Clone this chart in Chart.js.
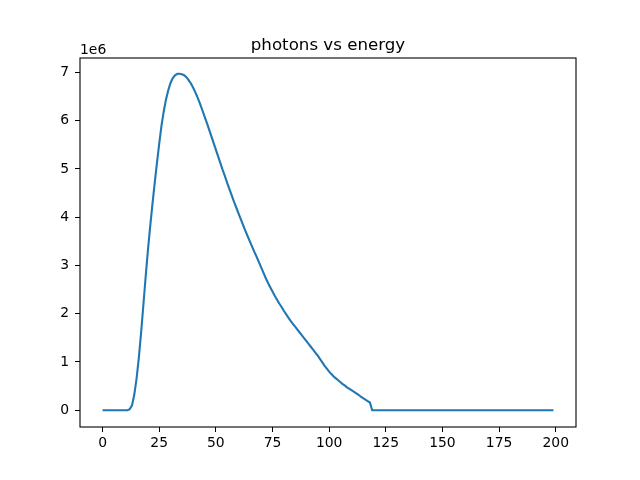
<!DOCTYPE html>
<html>
<head>
<meta charset="utf-8">
<script src="https://cdn.jsdelivr.net/npm/chart.js@4"></script>
<style>
  html, body { margin: 0; padding: 0; background: #fff; }
  #wrap { width: 640px; height: 480px; }
</style>
</head>
<body>
<div id="wrap"><canvas id="c" width="640" height="480"></canvas></div>
<script>
const titleText = "photons vs energy";
const offsetText = "1e6";

const energy = [
  0,1,2,3,4,5,6,7,8,9,10,11,12,13,14,15,16,17,18,19,
  20,21,22,23,24,25,26,27,28,29,30,31,32,33,34,35,36,37,38,39,
  40,41,42,43,44,45,46,47,48,49,50,51,52,53,54,55,56,57,58,59,
  60,61,62,63,64,65,66,67,68,69,70,71,72,73,74,75,76,77,78,79,
  80,81,82,83,84,85,86,87,88,89,90,91,92,93,94,95,96,97,98,99,
  100,101,102,103,104,105,106,107,108,109,110,111,112,113,114,115,116,117,118,119,
  120,121,122,123,124,125,126,127,128,129,130,131,132,133,134,135,136,137,138,139,
  140,141,142,143,144,145,146,147,148,149,150,151,152,153,154,155,156,157,158,159,
  160,161,162,163,164,165,166,167,168,169,170,171,172,173,174,175,176,177,178,179,
  180,181,182,183,184,185,186,187,188,189,190,191,192,193,194,195,196,197,198,199
];

// photons, in units of 1e6
const photons_e6 = [
  0,0,0,0,0,0,0,0,0,0,0,0,
  0.02,0.10,0.32,0.65,1.08,1.60,2.17,2.75,3.30,3.80,
  4.26,4.70,5.12,5.52,5.89,6.19,6.44,6.63,6.78,6.88,
  6.94,6.97,6.97,6.96,6.94,6.90,6.84,6.77,6.68,6.58,
  6.47,6.35,6.22,6.09,5.96,5.82,5.68,5.54,5.40,5.26,
  5.12,4.98,4.85,4.71,4.58,4.45,4.32,4.20,4.08,3.96,
  3.84,3.72,3.61,3.50,3.39,3.28,3.18,3.07,2.96,2.85,
  2.74,2.64,2.55,2.46,2.37,2.29,2.21,2.14,2.06,1.99,
  1.92,1.85,1.79,1.73,1.67,1.61,1.55,1.49,1.43,1.37,
  1.31,1.25,1.19,1.13,1.06,0.99,0.92,0.86,0.80,0.75,
  0.70,0.66,0.62,0.58,0.54,0.51,0.47,0.44,0.41,0.38,
  0.35,0.32,0.28,0.25,0.22,0.19,0.16,
  0,0,0,0,0,0,0,0,0,0,0,0,0,0,0,0,0,0,0,0,
  0,0,0,0,0,0,0,0,0,0,0,0,0,0,0,0,0,0,0,0,
  0,0,0,0,0,0,0,0,0,0,0,0,0,0,0,0,0,0,0,0,
  0,0,0,0,0,0,0,0,0,0,0,0,0,0,0,0,0,0,0,0,
  0
];

const xTicks = [0, 25, 50, 75, 100, 125, 150, 175, 200];
const yTicks = [0, 1, 2, 3, 4, 5, 6, 7];

const points = energy.map((e, i) => ({ x: e, y: photons_e6[i] }));

const FONT = "'DejaVu Sans', sans-serif";

const framePlugin = {
  id: 'frame',
  afterDraw(chart) {
    const { ctx, chartArea: a } = chart;
    ctx.save();
    ctx.strokeStyle = '#000';
    ctx.lineWidth = 1.1;
    ctx.strokeRect(a.left, a.top, a.right - a.left, a.bottom - a.top);
    ctx.fillStyle = '#000';
    ctx.font = "16.67px " + FONT;
    ctx.textAlign = 'center';
    ctx.textBaseline = 'alphabetic';
    ctx.fillText(titleText, (a.left + a.right) / 2, 50);
    ctx.font = "13.9px " + FONT;
    ctx.textAlign = 'left';
    ctx.fillText(offsetText, a.left, 53.5);
    ctx.restore();
  }
};

new Chart(document.getElementById('c'), {
  type: 'line',
  data: {
    datasets: [{
      data: points,
      borderColor: '#1f77b4',
      borderWidth: 2.1,
      pointRadius: 0,
      tension: 0,
      fill: false
    }]
  },
  options: {
    responsive: false,
    animation: false,
    devicePixelRatio: 1,
    layout: { padding: { left: 0, top: 58, right: 64, bottom: 0 } },
    plugins: { legend: { display: false }, title: { display: false }, tooltip: { enabled: false } },
    scales: {
      x: {
        type: 'linear',
        min: -9.95,
        max: 208.95,
        afterBuildTicks(s) { s.ticks = xTicks.map(v => ({ value: v })); },
        afterFit(s) { s.height = 53; },
        grid: { display: true, drawOnChartArea: false, drawTicks: true, tickLength: 5, color: '#000', lineWidth: 1 },
        border: { display: false },
        ticks: { color: '#000', font: { family: FONT, size: 13.9 }, padding: 3, maxRotation: 0, autoSkip: false }
      },
      y: {
        type: 'linear',
        min: -0.3475,
        max: 7.2975,
        afterBuildTicks(s) { s.ticks = yTicks.map(v => ({ value: v })); },
        afterFit(s) { s.width = 80; },
        grid: { display: true, drawOnChartArea: false, drawTicks: true, tickLength: 5, color: '#000', lineWidth: 1 },
        border: { display: false },
        ticks: { color: '#000', font: { family: FONT, size: 13.9 }, padding: 6, autoSkip: false }
      }
    }
  },
  plugins: [framePlugin]
});
</script>
</body>
</html>
